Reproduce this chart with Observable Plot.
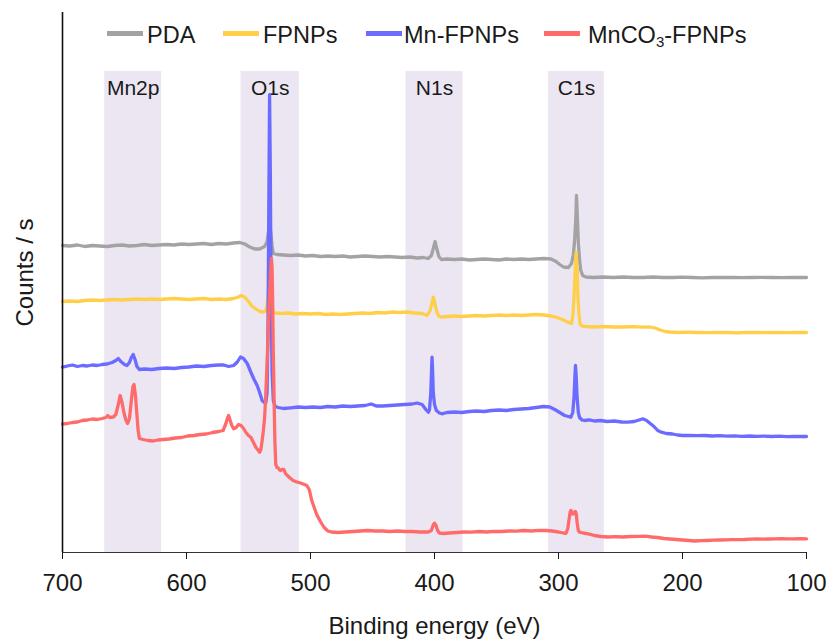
<!DOCTYPE html>
<html><head><meta charset="utf-8">
<script src="https://cdn.jsdelivr.net/npm/d3@7"></script>
<script src="https://cdn.jsdelivr.net/npm/@observablehq/plot@0.6"></script>
<style>
body{margin:0;background:#fff;}
#wrap{position:relative;width:831px;height:640px;font-family:"Liberation Sans",Arial,sans-serif;}
</style></head><body><div id="wrap"></div>
<script>
// ---- data (binding energy eV, counts in arbitrary units) ----
const seriesNames = ["PDA", "FPNPs", "Mn-FPNPs", "MnCO3-FPNPs"];
const seriesColors = ["#a3a3a3", "#ffcf4a", "#6b6bff", "#ff6b6b"];

const pda = [[700,307],[694,306.5],[688,307.5],[682,306],[676,307],[670,306.5],[664,306],[658,307],[652,307.5],[646,306.5],[640,307],[634,308],[628,307],[622,307.5],[616,308],[610,307.5],[604,308.5],[598,308],[592,308.5],[586,309],[580,308],[574,309],[568,308.5],[562,309.5],[557,310],[553,308.5],[549,305.5],[545,303.5],[541,303.5],[537,306],[535,311],[534,320],[533,327],[532,320],[531,307],[530,299],[527,298],[522,297.5],[516,297],[510,297.5],[504,296.5],[498,297],[492,296],[486,296.5],[480,296],[474,296.5],[468,295.5],[462,296],[456,296.5],[450,296],[444,295.5],[438,296],[432,295.5],[426,295],[420,295.5],[414,294.5],[409,295],[405,294],[402.5,297],[401,304],[399.5,311],[398,303],[396.5,296],[394.5,293],[390,293.5],[384,293],[378,293.5],[372,292.5],[366,293],[360,293.5],[354,293],[348,292.5],[342,293.5],[336,293],[330,293.5],[324,293],[318,293.5],[312,294],[306,293.5],[302,291],[299,288],[296,285.5],[292,285],[289.5,289],[288,298],[287,312],[286,335],[285.5,357],[284.8,335],[284,310],[283,292],[282,282],[280.5,277],[278,275.5],[272,275],[264,275.5],[256,275],[248,275.5],[240,275],[232,275],[224,275.5],[216,275],[208,275],[200,275.3],[192,275],[184,274.7],[176,275],[168,275.2],[160,275],[152,274.8],[144,275],[136,275.2],[128,275],[120,274.8],[112,275],[106,275.2],[100,275]];

const fpnps = [[700,251],[694,251.5],[688,251],[682,252],[676,252.5],[670,252],[664,252.5],[658,253],[652,252.5],[646,253],[640,253.5],[634,253],[628,253.5],[622,253],[616,253.5],[610,254],[604,253.5],[598,253],[592,253.5],[586,254],[580,253],[574,253.5],[568,253],[562,254],[558,255.5],[556,257],[553,255.5],[550,251],[547,246],[544,243.5],[541,241],[538,240.5],[536,241.5],[535,248],[534,258],[533,262],[532,256],[531,246],[530,240],[528,239.5],[524,239],[518,239.5],[512,238.5],[506,239],[500,238.5],[494,239],[488,238],[482,238.5],[476,238],[470,238.5],[464,239],[458,239.5],[452,239],[446,240],[440,239.5],[434,240.5],[428,240],[422,240.5],[416,239.5],[410,239],[406,237],[403.5,242],[402,250],[401,255.3],[400,251],[398.5,242],[397,237],[394.5,235.3],[390,236],[384,236.5],[378,236],[372,236.5],[366,237],[360,236.5],[354,237],[348,237.5],[342,237],[336,237.5],[330,237],[324,237.5],[318,238],[312,237.5],[306,236.5],[301,235],[296,232.5],[292,230],[289.5,229],[288.3,238],[287.3,260],[286.5,285],[285.8,300],[285,285],[284.3,255],[283.5,238],[282.5,228],[281,226.5],[278,226],[272,225.5],[264,226],[256,225.5],[248,225.5],[240,225.8],[232,225.3],[226,225.5],[222,224.5],[218,222.5],[214,221],[210,220.5],[204,220],[196,220.3],[188,220],[180,219.8],[172,220.2],[164,220],[156,219.7],[148,220],[140,220.2],[132,219.8],[124,220],[116,219.8],[108,220.1],[100,220]];

const mnFpnps = [[700,185.3],[696,186.5],[692,187.5],[688,186],[684,187],[680,186.5],[676,187.5],[672,187],[668,188],[664,188.5],[660,190],[657,192],[655,194],[653,191],[650,188],[648,187],[646,190],[644.5,195],[643,198],[641.5,193],[640,186],[638,183],[634,183.5],[628,183],[622,184],[616,184.5],[610,184],[604,185],[598,185.5],[592,186.5],[586,186],[580,187],[574,187.5],[570,187.5],[566,186],[562,187],[559,190.5],[556.5,195.5],[554,194],[551,189],[548,180],[545.5,173],[543,167],[541,160],[539,152],[537.5,150.3],[536,150],[535,160],[534.3,220],[533.6,350],[533,457.7],[532.4,380],[531.8,260],[531,180],[530,152],[528.5,146],[526,145],[522,144],[516,144.7],[510,145.5],[504,145],[498,145.5],[492,145],[486,146],[480,145.5],[474,146.5],[468,146],[462,146.5],[456,147],[451,148.5],[447,146.5],[442,146.5],[436,147],[430,147.5],[424,148],[418,148.5],[414,149.5],[410,148],[407,143],[405,140.3],[404,143],[403,160],[402.3,185],[402,195.3],[401.6,185],[401,160],[400,148],[398.5,142],[396,139.5],[394,138.7],[390,140],[384,140.5],[378,140],[372,141],[366,141.5],[360,141],[354,142],[348,142.5],[342,142],[336,143],[330,143.5],[324,144],[318,145],[312,146],[307,145.5],[303,143],[299,140],[295,137],[292,136],[290,135.3],[288.5,140],[287.5,155],[286.8,175],[286.3,187],[285.7,175],[285,155],[284,140],[283,135],[281,132.5],[279,132],[275,132.7],[271,131.5],[266,132],[261,131],[255,131.5],[249,130.5],[244,130.3],[239,131],[235,132.5],[232,133.7],[229,132],[226,129],[223,126],[220,122],[217,120.3],[213,119],[208,118.5],[204,117.5],[200,117],[194,117.2],[188,116.8],[182,117],[176,116.5],[170,116.8],[164,116.3],[158,116.7],[152,116.2],[146,116.5],[140,116.1],[134,116.4],[128,116],[122,116.3],[116,115.9],[110,116.2],[104,116],[100,116]];

const mnco3Fpnps = [[700,128.5],[696,129],[692,130],[688,130.5],[684,132],[680,132.5],[676,133.5],[672,133],[668,134],[665,135],[663.5,137],[662,135],[659,135.5],[657,138],[655,148],[653.5,157],[652,150],[650.5,140],[649,133],[647.5,129],[646,134],[644.5,152],[643.2,166],[642.3,168],[641,155],[640,138],[639,122],[638,114],[635,113],[631,112],[627,111.5],[623,112.5],[619,113],[614,113.5],[609,114.5],[604,115],[599,116.5],[594,117],[589,118],[584,118.5],[579,120],[574,121],[570.5,122],[568.5,128],[567,134],[566,137],[565,133],[563.5,127],[562,123.7],[560,125],[558,128],[556,127],[554,124],[552,120],[550,117],[548,115],[546,110],[544,105],[542,102],[541,100.3],[540,103],[539,112],[538,122],[537,135],[536,160],[535,190],[534,225],[533,258],[532,285],[531.5,294],[531,285],[530.5,250],[530,200],[529.3,150],[528.7,110],[528,88],[527,85],[526,84.5],[525,82.5],[524,82],[523,83],[521.5,83],[520,78.7],[517,75],[514,72],[511,70.5],[508,69.5],[505,68],[503,67],[501,63],[499,52],[497,45],[495,38],[492,31],[489,25],[486,21.5],[483,20.5],[478,20],[472,20.5],[466,21],[460,21.5],[454,22],[448,21.5],[442,21.5],[436,21],[430,21.5],[424,21],[418,21],[412,20.5],[405,20.5],[402.5,22],[401.2,27],[400,29.3],[398.8,27],[397.5,22],[396,19.5],[393,19],[388,19.5],[382,20],[376,20.5],[370,20.3],[364,21],[358,20.5],[352,21.2],[346,21],[340,21.5],[334,21.3],[328,22],[322,21.5],[316,22.2],[310,22],[305,21.5],[300,20.5],[296,19.5],[294,19.2],[292.5,24],[291.5,33],[290.5,41],[290,42],[289.3,40],[288.5,38.5],[287.7,38.7],[287,40.5],[286.3,41],[285.6,38],[285,30],[284,22],[283,20.3],[280,19.5],[276,18.7],[271,17],[266,16],[260,15.5],[254,15.8],[248,15.5],[242,16],[236,16.2],[230,16.3],[225,15.5],[220,15],[215,14],[210,13.5],[205,13],[200,12.5],[195,12],[190,11.5],[185,11.8],[180,12],[175,12.3],[170,12.5],[165,12.7],[160,12.8],[155,12.9],[150,13],[145,13.3],[140,13.5],[135,13.4],[130,13.5],[125,13.7],[120,13.8],[115,13.6],[110,13.7],[105,13.8],[100,13.7]];

const seriesData = [pda, fpnps, mnFpnps, mnco3Fpnps];

const bandNames = ["Mn2p", "O1s", "N1s", "C1s"];
const bandLow = [620, 509, 377, 263];
const bandHigh = [666, 556, 423, 308];
const bandTop = 481;
const bandLabelLevel = 464.5;

const xTicks = [700, 600, 500, 400, 300, 200, 100];

// ---- build tables ----
const rows = [];
seriesNames.forEach((name, i) => seriesData[i].forEach(([ev, c]) => rows.push({series: name, ev, counts: c})));
const bands = bandNames.map((name, i) => ({name, lo: bandLow[i], hi: bandHigh[i]}));

const FONT = '"Liberation Sans", Arial, sans-serif';

const chart = Plot.plot({
  width: 831, height: 640,
  marginLeft: 62, marginRight: 25, marginTop: 12, marginBottom: 88,
  style: {fontFamily: FONT, fontSize: "24px", color: "#1a1a1a", background: "#fff"},
  x: {domain: [700, 100], axis: null},
  y: {domain: [0, 540], axis: null},
  color: {domain: seriesNames, range: seriesColors},
  marks: [
    Plot.rect(bands, {x1: "lo", x2: "hi", y1: 0, y2: bandTop, fill: "#ece6f2"}),
    Plot.text(bands, {x: d => (d.lo + d.hi) / 2, y: bandLabelLevel, text: "name", fontSize: 21, fill: "#1a1a1a"}),
    Plot.line(rows, {x: "ev", y: "counts", z: "series", stroke: "series", strokeWidth: 3.3, strokeLinejoin: "round"}),
    Plot.ruleY([0], {stroke: "#333", strokeWidth: 1.2}),
    Plot.ruleX([700], {stroke: "#111", strokeWidth: 1.6}),
    Plot.axisX({ticks: xTicks, tickSize: 7, tickPadding: 14, fontSize: 24, tickFormat: d => String(d), label: null}),
    Plot.text(["Binding energy (eV)"], {frameAnchor: "bottom", dy: 81, lineAnchor: "bottom", fontSize: 24, fill: "#1a1a1a"}),
    Plot.text(["Counts / s"], {frameAnchor: "left", textAnchor: "middle", dx: -37, dy: -10, rotate: -90, fontSize: 24, fill: "#1a1a1a"})
  ]
});

const wrap = document.getElementById("wrap");
wrap.appendChild(chart);

// ---- legend overlay ----
const legLineX = [107, 223, 366, 544];
const legTextX = [147, 263, 404, 588];
const leg = d3.create("svg")
  .attr("width", 831).attr("height", 60)
  .style("position", "absolute").style("left", "0px").style("top", "0px")
  .style("font-family", FONT);
seriesNames.forEach((name, i) => {
  leg.append("line")
    .attr("x1", legLineX[i]).attr("x2", legLineX[i] + 36)
    .attr("y1", 33.5).attr("y2", 33.5)
    .attr("stroke", seriesColors[i]).attr("stroke-width", 5);
  const t = leg.append("text").attr("x", legTextX[i]).attr("y", 43.3)
    .attr("font-size", 23.5).attr("fill", "#1a1a1a");
  const parts = name.split(/(?<=CO)(3)/);
  if (parts.length === 3) {
    t.append("tspan").text(parts[0]);
    t.append("tspan").text(parts[1]).attr("font-size", 15).attr("dy", 4);
    t.append("tspan").text(parts[2]).attr("dy", -4);
  } else {
    t.text(name);
  }
});
wrap.appendChild(leg.node());
</script>
</body></html>
